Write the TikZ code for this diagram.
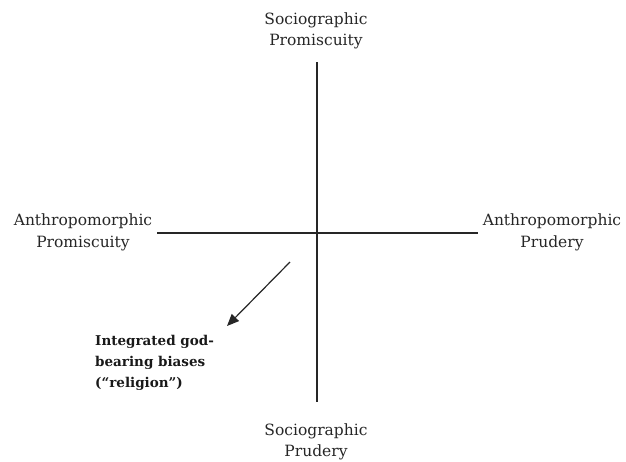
\documentclass[tikz,border=0pt]{standalone}
\usepackage{fontspec}
\setmainfont{DejaVu Serif}
\usetikzlibrary{arrows.meta}
\begin{document}
\begin{tikzpicture}[x=1pt,y=-1pt,
  lbl/.style={align=center,font=\fontsize{15.5}{21.5}\selectfont,inner sep=0pt,text=black!85},
  boldlbl/.style={align=left,font=\fontsize{13.5}{21}\selectfont\bfseries,inner sep=0pt,anchor=north west,text=black!90},
  axis/.style={line width=1.2pt,black!85}]
\useasboundingbox (0,0) rectangle (626,461);
\coordinate (vt) at (317,62);
\coordinate (vb) at (317,402);
\coordinate (hl) at (157,233);
\coordinate (hr) at (478,233);
\draw[axis] (vt) -- (vb);
\draw[axis] (hl) -- (hr);
\node[lbl] (top) at (316,31) {Sociographic\\Promiscuity};
\node[lbl] (bot) at (316,442) {Sociographic\\Prudery};
\node[lbl] (left) at (83,232.5) {Anthropomorphic\\Promiscuity};
\node[lbl] (right) at (552,232.5) {Anthropomorphic\\Prudery};
\coordinate (as) at (290,262);
\coordinate (ae) at (227,326);
\draw[line width=1.2pt,black!85,-{Triangle[length=12pt,width=10pt]}] (as) -- (ae);
\node[boldlbl] (rel) at (95,335) {Integrated god-\\bearing biases\\(“religion”)};
\end{tikzpicture}
\end{document}
